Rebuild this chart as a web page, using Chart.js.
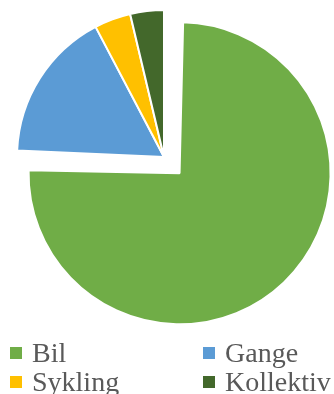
<!DOCTYPE html>
<html lang="no">
<head>
<meta charset="UTF-8">
<title>Reisemiddel</title>
<style>
  html, body { margin: 0; padding: 0; background: #fff; overflow: hidden; }
  .wrap { position: relative; width: 334px; height: 394px; overflow: hidden; }
  #chart { position: absolute; left: 0; top: 0; }
  .legend { position: absolute; left: 10px; top: 338px; width: 400px;
            font-family: "Liberation Serif", "Times New Roman", serif;
            font-size: 28px; line-height: 29px; color: #595959; }
  .item { position: absolute; white-space: nowrap; }
  .box { display: inline-block; width: 12px; height: 12px; margin-right: 10px; vertical-align: 3px; }
</style>
</head>
<body>
<div class="wrap">
  <canvas id="chart" width="334" height="394"></canvas>
  <div class="legend" id="legend"></div>
</div>
<script src="https://cdn.jsdelivr.net/npm/chart.js"></script>
<script>
  const labels = ["Bil", "Gange", "Sykling", "Kollektiv"];
  const values = [75.7, 16.6, 4.0, 3.7];
  const colors = ["#70AD47", "#5B9BD5", "#FFC000", "#43682B"];
  const explode = 90; // Chart.js moves an arc by offset / 4

  // Chart.js also grows a large exploded arc by offset / 4; take most of that back
  const keepRadius = {
    id: "keepRadius",
    afterDatasetsUpdate(chart) {
      const arc = chart.getDatasetMeta(0).data[0];
      arc.outerRadius -= explode / 4 - 4;
    }
  };

  new Chart(document.getElementById("chart"), {
    type: "pie",
    data: {
      labels: labels,
      datasets: [{
        data: values,
        backgroundColor: colors,
        borderColor: "#ffffff",
        borderWidth: 2,
        offset: [explode, 0, 0, 0],
        radius: 147
      }]
    },
    options: {
      responsive: false,
      animation: false,
      events: [],
      layout: { padding: { left: 0, right: 6, top: 0, bottom: 80 } },
      plugins: { legend: { display: false }, tooltip: { enabled: false } }
    },
    plugins: [keepRadius]
  });

  // two-column legend like the original
  const legend = document.getElementById("legend");
  labels.forEach((name, i) => {
    const item = document.createElement("div");
    item.className = "item";
    item.style.left = (i % 2) * 193 + "px";
    item.style.top = Math.floor(i / 2) * 29 + "px";
    item.innerHTML = '<span class="box" style="background:' + colors[i] + '"></span>' + name;
    legend.appendChild(item);
  });
</script>
</body>
</html>
